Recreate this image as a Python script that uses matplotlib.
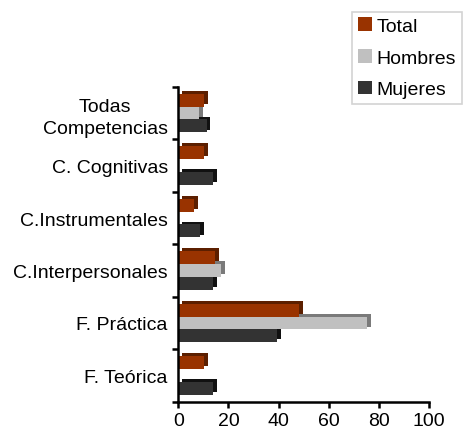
import numpy as np
import matplotlib
matplotlib.use('Agg')
import matplotlib.pyplot as plt
import matplotlib.patheffects as pe

plt.rcParams['font.family'] = ['Liberation Sans', 'DejaVu Sans']

# datos (de abajo hacia arriba)
categorias = ['F. Teórica', 'F. Práctica', 'C.Interpersonales',
              'C.Instrumentales', 'C. Cognitivas', 'Todas\nCompetencias']
total = [10.4, 48.2, 14.7, 6.3, 10.4, 10.4]
hombres = [0, 75.4, 16.9, 0, 0, 8.4]
mujeres = [13.9, 39.5, 13.9, 8.7, 13.9, 11.3]
xticks = [0, 20, 40, 60, 80, 100]

colores = {'Total': '#993300', 'Hombres': '#c0c0c0', 'Mujeres': '#333333'}
sombras = {'Total': '#5c1f00', 'Hombres': '#7a7a7a', 'Mujeres': '#111111'}

fig = plt.figure(figsize=(4.63, 4.39), dpi=100)
ax = fig.add_axes([0.385, 0.0827, 0.5416, 0.7173])

y = np.arange(len(categorias))
h = 0.245

series = [('Mujeres', mujeres, -h), ('Hombres', hombres, 0), ('Total', total, h)]
handles = {}
for nombre, vals, dy in series:
    bars = ax.barh(y + dy, vals, height=h, color=colores[nombre],
                   edgecolor='none', label=nombre)
    for b in bars:
        b.set_path_effects([pe.SimplePatchShadow(offset=(2.8, 2.0),
                                                 shadow_rgbFace=sombras[nombre],
                                                 alpha=1.0),
                            pe.Normal()])
    handles[nombre] = bars

ax.set_xlim(0, 100)
ax.set_ylim(-0.5, len(categorias) - 0.5)
ax.set_xticks(xticks)
ax.set_yticks(y)
ax.set_yticklabels(categorias, multialignment='center', linespacing=1.4)
ax.set_yticks(np.arange(-0.5, len(categorias), 1), minor=True)

for s in ['top', 'right']:
    ax.spines[s].set_visible(False)
for s in ['left', 'bottom']:
    ax.spines[s].set_linewidth(1.8)

ax.tick_params(axis='y', which='major', length=0, pad=7.5, labelsize=14)
ax.tick_params(axis='y', which='minor', length=4.5, width=1.8, direction='out')
ax.tick_params(axis='x', length=4.5, width=1.8, direction='out', pad=3, labelsize=14)

leg = fig.legend([handles['Total'], handles['Hombres'], handles['Mujeres']],
                 ['Total', 'Hombres', 'Mujeres'],
                 loc='upper right', bbox_to_anchor=(461.7 / 463, 1 - 12.5 / 439),
                 bbox_transform=fig.transFigure, borderaxespad=0,
                 fontsize=14, handlelength=0.7, handleheight=0.7,
                 handletextpad=0.25, labelspacing=0.72, borderpad=0.3,
                 fancybox=False, frameon=True)
leg.get_frame().set_edgecolor('#c8c8c8')
leg.get_frame().set_linewidth(1.2)
for p in leg.get_patches():
    p.set_path_effects([])

fig.savefig('out.png', dpi=100)
plt.close(fig)
